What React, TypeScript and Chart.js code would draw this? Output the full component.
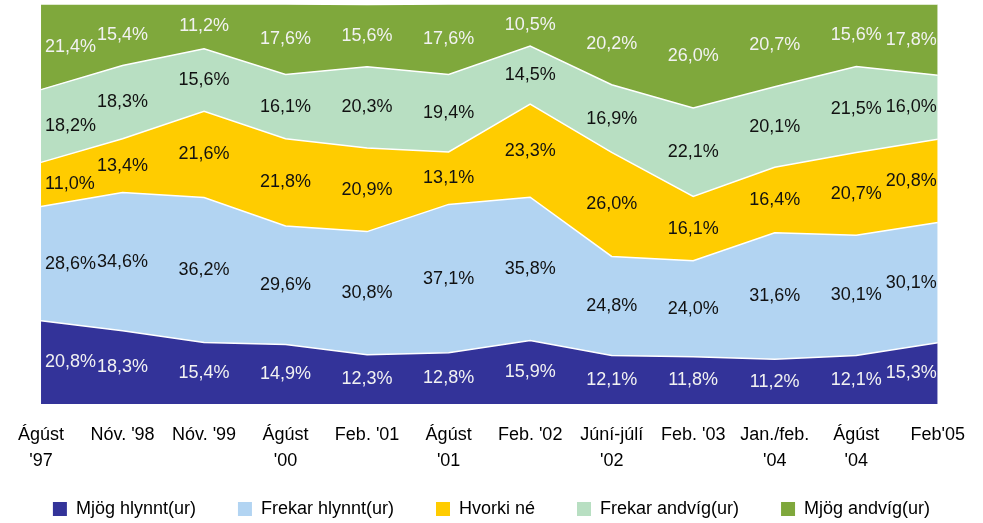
import React, { useEffect, useRef } from "react";
import { Chart, registerables } from "chart.js";

Chart.register(...registerables);

const categories: (string | string[])[] = [
  ["Ágúst", "'97"],
  "Nóv. '98",
  "Nóv. '99",
  ["Ágúst", "'00"],
  "Feb. '01",
  ["Ágúst", "'01"],
  "Feb. '02",
  ["Júní-júlí", "'02"],
  "Feb. '03",
  ["Jan./feb.", "'04"],
  ["Ágúst", "'04"],
  "Feb'05",
];

const seriesNames = [
  "Mjög hlynnt(ur)",
  "Frekar hlynnt(ur)",
  "Hvorki né",
  "Frekar andvíg(ur)",
  "Mjög andvíg(ur)",
];

const mjogHlynnt = [20.8, 18.3, 15.4, 14.9, 12.3, 12.8, 15.9, 12.1, 11.8, 11.2, 12.1, 15.3];
const frekarHlynnt = [28.6, 34.6, 36.2, 29.6, 30.8, 37.1, 35.8, 24.8, 24.0, 31.6, 30.1, 30.1];
const hvorkiNe = [11.0, 13.4, 21.6, 21.8, 20.9, 13.1, 23.3, 26.0, 16.1, 16.4, 20.7, 20.8];
const frekarAndvig = [18.2, 18.3, 15.6, 16.1, 20.3, 19.4, 14.5, 16.9, 22.1, 20.1, 21.5, 16.0];
const mjogAndvig = [21.4, 15.4, 11.2, 17.6, 15.6, 17.6, 10.5, 20.2, 26.0, 20.7, 15.6, 17.8];

const seriesValues = [mjogHlynnt, frekarHlynnt, hvorkiNe, frekarAndvig, mjogAndvig];
const seriesColors = ["#333399", "#B2D4F2", "#FFCC00", "#B8DFC2", "#7FA83C"];
const labelColors = ["#F2F2F2", "#111111", "#111111", "#111111", "#F2F2F2"];

const FONT = '"Liberation Sans", Arial, sans-serif';
const LEGEND_PAD = 42;
const LEGEND_FONT = 18;
const LEGEND_CENTER_Y = 509;

const dataLabelPlugin = {
  id: "areaLabels",
  afterLayout(chart: any) {
    const lg = chart.legend;
    if (!lg) return;
    const itemH = Math.max(LEGEND_FONT, 14);
    const currentCenter = lg.top + LEGEND_PAD + itemH / 2;
    const dy = LEGEND_CENTER_Y - currentCenter;
    lg.top += dy;
    lg.bottom = chart.height;
    lg.height = lg.bottom - lg.top;
  },
  afterDatasetsDraw(chart: any) {
    const { ctx, chartArea, scales } = chart;
    const xs = scales.x;
    const ys = scales.y;
    ctx.save();
    ctx.beginPath();
    ctx.rect(chartArea.left, chartArea.top, chartArea.right - chartArea.left, chartArea.bottom - chartArea.top);
    ctx.clip();
    ctx.font = `18px ${FONT}`;
    ctx.textAlign = "center";
    ctx.textBaseline = "middle";
    const n = categories.length;
    for (let j = 0; j < n; j++) {
      let cum = 0;
      for (let i = 0; i < seriesValues.length; i++) {
        const v = seriesValues[i][j];
        const yb = ys.getPixelForValue(cum);
        const yt = ys.getPixelForValue(cum + v);
        cum += v;
        const text = v.toFixed(1).replace(".", ",") + "%";
        const w = ctx.measureText(text).width;
        let x = xs.getPixelForValue(j);
        x = Math.max(x, chartArea.left + 4 + w / 2);
        x = Math.min(x, chartArea.right - 1 - w / 2);
        ctx.fillStyle = labelColors[i];
        ctx.fillText(text, x, (yb + yt) / 2);
      }
    }
    ctx.restore();
  },
};

export default function App() {
  const ref = useRef<HTMLCanvasElement | null>(null);
  useEffect(() => {
    if (!ref.current) return;
    const chart = new Chart(ref.current, {
      type: "line",
      data: {
        labels: categories,
        datasets: seriesValues.map((vals, i) => ({
          label: seriesNames[i],
          data: vals,
          yAxisID: "y",
          backgroundColor: seriesColors[i],
          borderColor: "#FFFFFF",
          borderWidth: 1.5,
          pointRadius: 0,
          pointHoverRadius: 0,
          tension: 0,
          fill: i === 0 ? "origin" : "-1",
        })),
      },
      options: {
        animation: false,
        responsive: true,
        maintainAspectRatio: false,
        layout: { padding: { left: 0, right: 0, top: 4, bottom: 0 } },
        plugins: {
          tooltip: { enabled: false },
          legend: {
            position: "bottom",
            maxHeight: 49,
            labels: {
              font: { family: FONT, size: LEGEND_FONT },
              color: "#000000",
              boxWidth: 14,
              boxHeight: 14,
              padding: LEGEND_PAD,
              generateLabels: (ch: any) =>
                ch.data.datasets.map((ds: any, i: number) => ({
                  text: ds.label,
                  fillStyle: seriesColors[i],
                  strokeStyle: seriesColors[i],
                  lineWidth: 0,
                  fontColor: "#000000",
                  hidden: false,
                  datasetIndex: i,
                })),
            },
          },
        },
        scales: {
          x: {
            offset: false,
            grid: { display: false, drawTicks: false },
            border: { display: false },
            afterFit: (scale: any) => {
              scale.height = 70;
            },
            ticks: {
              autoSkip: false,
              maxRotation: 0,
              minRotation: 0,
              padding: 18,
              color: "#000000",
              font: { family: FONT, size: 18, lineHeight: 26 / 18 },
            },
          },
          y: {
            position: "left",
            stacked: true,
            min: 0,
            max: 100,
            grid: { display: false, drawTicks: false },
            border: { display: false },
            ticks: { display: false },
            afterFit: (scale: any) => {
              scale.width = 35;
            },
          },
          yRight: {
            type: "linear",
            position: "right",
            min: 0,
            max: 100,
            grid: { display: false, drawTicks: false },
            border: { display: false },
            ticks: { display: false },
            afterFit: (scale: any) => {
              scale.width = 44;
            },
          },
        },
      },
      plugins: [dataLabelPlugin],
    });
    return () => chart.destroy();
  }, []);
  return (
    <div style={{ position: "fixed", left: 0, top: 0, width: 983, height: 523, overflow: "hidden", background: "#fff" }}>
      <div style={{ position: "relative", width: 983, height: 523 }}>
        <canvas ref={ref} />
      </div>
    </div>
  );
}
